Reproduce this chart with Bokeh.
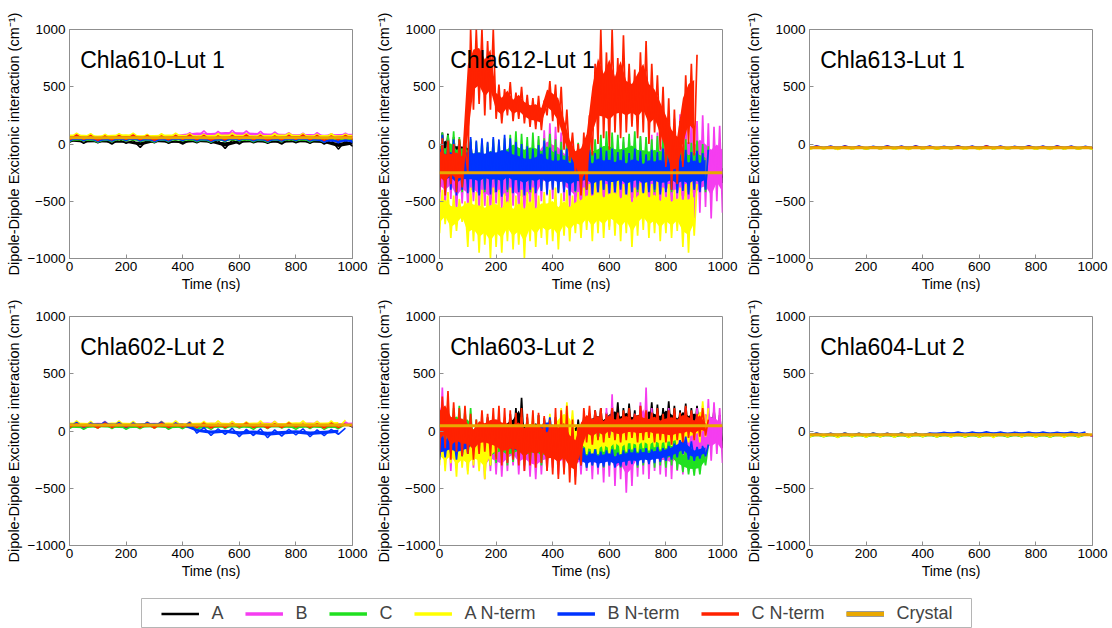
from bokeh.plotting import figure
from bokeh.layouts import column, row
from bokeh.models import Span, Label, Legend, LegendItem, Range1d, FixedTicker, Spacer
from bokeh.embed import file_html
from bokeh.resources import INLINE

# ---------------- data (lo/hi envelopes) ----------------
SERIES = ["A", "B", "C", "A N-term", "B N-term", "C N-term"]
COLORS = ["#000000", "#F53DF0", "#20E020", "#FFFF00", "#0033FF", "#FF2200"]
CRYSTAL_LABEL = "Crystal"
CRYSTAL_COLOR = "#E9A800"
X_TICKS = [0, 200, 400, 600, 800, 1000]
Y_TICKS = [-1000, -500, 0, 500, 1000]
TITLES = ["Chla610-Lut 1", "Chla612-Lut 1", "Chla613-Lut 1",
          "Chla602-Lut 2", "Chla603-Lut 2", "Chla604-Lut 2"]
STEPS = [50, 20, 50, 50, 20, 50]   # ns between samples

# Chla610-Lut 1
P610_A_LO = [15, 5, 10, 0, 5, -30, 10, 5, 0, 10, 5, -40, 0, 10, 5, 0, 10, 5, 0, -45, -20]
P610_A_HI = [45, 40, 35, 40, 30, 35, 40, 30, 35, 40, 30, 35, 40, 35, 30, 40, 35, 40, 35, 30, 40]
P610_B_LO = [30, 25, 35, 20, 30, 25, 30, 35, 50, 60, 55, 60, 65, 60, 55, 60, 55, 50, 55, 60, 55]
P610_B_HI = [80, 70, 75, 65, 70, 75, 70, 80, 100, 115, 110, 120, 115, 110, 105, 100, 95, 100, 90, 95, 100]
P610_C_LO = [20, 25, 15, 20, 25, 20, 15, 20, 25, 20, 15, 20, 25, 20, 15, 20, 25, 20, 15, 20, 25]
P610_C_HI = [55, 50, 45, 50, 55, 45, 50, 55, 50, 45, 50, 55, 50, 45, 50, 55, 50, 45, 50, 55, 50]
P610_AN_LO = [50, 55, 45, 50, 55, 50, 45, 50, 55, 50, 45, 50, 55, 50, 45, 50, 55, 50, 45, 50, 55]
P610_AN_HI = [95, 90, 85, 90, 95, 85, 90, 95, 90, 85, 90, 95, 90, 85, 90, 95, 90, 85, 90, 85, 90]
P610_BN_LO = [25, 30, 20, 25, 30, 25, 20, 25, 30, 25, 20, 25, 30, 25, 20, 25, 30, 25, 15, 10, 15]
P610_BN_HI = [60, 55, 50, 55, 60, 55, 50, 55, 60, 55, 50, 55, 60, 55, 50, 55, 60, 55, 45, 40, 45]
P610_CN_LO = [35, 40, 30, 35, 40, 35, 30, 35, 40, 35, 30, 35, 40, 35, 30, 35, 40, 35, 30, 35, 40]
P610_CN_HI = [80, 75, 70, 75, 80, 75, 70, 75, 80, 75, 70, 75, 80, 75, 70, 75, 80, 75, 70, 75, 80]
P610_CRYSTAL = 55

# Chla612-Lut 1
P612_A_LO = [-420, -150, -250, -200, -180, -200, -280, -300, -260, -320, -290, -300, -310, -280, -300, -320, -290,
             -300, -310, -300, -320, -300, -290, -350, -330, -360, -340, -350, -330, -360, -340, -350, -330, -360,
             -340, -350, -330, -360, -340, -350, -330, -360, -340, -350, -330, -360, -340, -350, -330, -360, -340]
P612_A_HI = [100, 90, 60, 40, 30, 20, -40, -60, -30, -70, -50, -80, -60, -90, -70, -100, -80,
             -110, -90, -120, -100, -110, -120, -150, -160, -140, -170, -150, -160, -140, -170, -150, -160, -140,
             -170, -150, -160, -140, -170, -150, -160, -140, -170, -150, -160, -140, -170, -150, -160, -140, -170]
P612_B_LO = [-500, -550, -480, -600, -520, -560, -500, -580, -540, -600, -520, -560, -600, -540, -580, -620, -560,
             -600, -500, -450, -480, -420, -500, -550, -600, -650, -600, -700, -620, -680, -720, -650, -600, -700,
             -620, -680, -600, -650, -700, -620, -580, -650, -600, -700, -620, -650, -600, -550, -650, -500, -600]
P612_B_HI = [60, 40, 20, -20, 0, -40, -60, -30, -80, -50, -70, -40, -60, -30, -50, -20, 0,
             40, 120, 180, 150, 100, 60, 30, 0, -20, 0, 20, 40, 10, 30, 0, 20, 40,
             30, 60, 40, 80, 100, 150, 250, 220, 260, 200, 240, 200, 250, 180, 150, 160, 130]
P612_C_LO = [-350, -400, -300, -380, -420, -350, -400, -380, -420, -360, -400, -380, -420, -350, -400, -380,
             -420, -360, -400, -350, -380, -420, -400, -380, -420, -350, -400, -380, -420, -400, -380, -420,
             -360, -400, -380, -420, -400, -380, -420, -400, -380, -420, -400, -380, -420, -400, -380, -420]
P612_C_HI = [100, 80, 110, 60, 90, 40, 20, 30, 10, 40, 20, 50, 80, 110, 90, 60,
             100, 70, 50, 90, 40, 20, 0, -20, 10, 0, 20, 40, 80, 110, 100, 80,
             60, 90, 110, 70, 60, 40, 70, 50, 30, 60, 20, 40, 10, 30, 0, -20]
P612_AN_LO = [-780, -700, -820, -760, -680, -900, -850, -950, -880, -1000, -900, -950, -850, -920, -880, -1000,
              -850, -900, -820, -880, -850, -920, -800, -850, -780, -820, -750, -850, -780, -820, -750, -800,
              -850, -780, -900, -800, -750, -820, -780, -850, -780, -820, -760, -900, -950, -800]
P612_AN_HI = [-400, -420, -450, -480, -500, -380, -420, -400, -450, -380, -400, -430, -380, -450, -400, -420,
              -380, -450, -420, -400, -380, -430, -400, -450, -420, -380, -350, -320, -300, -350, -330, -300,
              -350, -320, -380, -340, -300, -350, -330, -380, -350, -400, -380, -350, -330, -350]
P612_BN_LO = [-380, -420, -400, -450, -400, -430, -420, -450, -400, -440, -420, -460, -400, -430, -420, -450,
              -400, -430, -410, -440, -400, -430, -420, -450, -410, -420, -400, -440, -420, -400, -430, -420,
              -400, -440, -420, -400, -430, -420, -400, -440, -420, -400, -430, -410, -440, -400, -420, -400]
P612_BN_HI = [80, 20, 40, 0, -20, 60, 30, 50, 20, 60, 40, 80, 50, 20, 0, -20,
              -40, -10, 30, -30, -60, -50, -40, -70, -60, -40, -50, -80, -30, -60, -40, -70,
              -50, -80, -40, -60, -90, -50, -70, -40, -80, -60, -90, -50, -70, -60, -80, -50]
P612_CN_LO = [-400, -450, -350, -420, -380, -250, 300, 350, 250, 300, 220, 180, 250, 200, 220, 180,
              150, 130, 120, 250, 200, 100, -50, -150, -250, -450, -400, -100, 0, 50, -50, 100,
              50, 100, 150, 50, 100, 0, 100, -50, -200, -400, -350, -200, 0, -100]
P612_CN_HI = [50, 30, 0, 40, -20, 1000, 1000, 1000, 900, 1000, 520, 480, 540, 450, 500, 430,
              400, 420, 380, 550, 520, 500, 300, 100, 0, 100, 250, 700, 1000, 800, 1000, 750,
              950, 700, 650, 800, 900, 700, 600, 500, 400, 300, 200, 600, 700, 780]
P612_CRYSTAL = -250

# Chla613-Lut 1
P613_A_LO = [-40, -38, -42, -40, -37, -41, -39, -42, -38, -40, -41, -37, -40, -42, -39, -38, -41, -40, -37, -42, -40]
P613_A_HI = [-25, -27, -23, -26, -24, -28, -25, -22, -26, -24, -27, -25, -23, -26, -24, -20, -27, -25, -23, -26, -24]
P613_B_LO = [-42, -40, -44, -41, -39, -43, -40, -42, -44, -41, -40, -43, -42, -39, -41, -44, -40, -42, -41, -43, -40]
P613_B_HI = [-24, -26, -22, -25, -27, -23, -26, -24, -22, -25, -26, -23, -24, -27, -25, -22, -26, -24, -25, -23, -26]
P613_C_LO = [-44, -42, -46, -43, -45, -42, -44, -46, -43, -45, -42, -44, -46, -43, -45, -42, -44, -46, -43, -45, -44]
P613_C_HI = [-28, -30, -27, -29, -31, -28, -30, -27, -29, -31, -28, -30, -27, -29, -31, -28, -30, -27, -29, -31, -29]
P613_AN_LO = [-46, -44, -48, -45, -47, -44, -46, -48, -45, -47, -44, -46, -48, -45, -47, -44, -46, -48, -45, -47, -46]
P613_AN_HI = [-28, -30, -26, -29, -27, -30, -28, -26, -29, -27, -30, -28, -26, -29, -27, -30, -28, -26, -29, -27, -28]
P613_BN_LO = [-35, -33, -37, -34, -36, -33, -35, -37, -34, -36, -33, -35, -37, -34, -36, -33, -35, -37, -34, -36, -35]
P613_BN_HI = [-16, -18, -15, -17, -19, -16, -18, -15, -17, -19, -16, -18, -15, -17, -19, -16, -18, -15, -17, -19, -17]
P613_CN_LO = [-38, -36, -40, -37, -39, -36, -38, -40, -37, -39, -36, -38, -40, -37, -39, -36, -38, -40, -37, -39, -38]
P613_CN_HI = [-20, -22, -19, -21, -23, -20, -22, -19, -21, -23, -20, -22, -18, -21, -23, -20, -22, -19, -21, -23, -21]
P613_CRYSTAL = -32

# Chla602-Lut 2
P602_A_LO = [35, 30, 40, 35, 30, 35, 40, 30, 35, 40, 30, 35, 40, 35, 30, 40, 35, 30, 35, 40, 35]
P602_A_HI = [65, 60, 70, 65, 60, 70, 65, 60, 70, 65, 60, 65, 70, 60, 65, 70, 60, 65, 70, 65, 60]
P602_B_LO = [35, 40, 30, 35, 40, 30, 35, 40, 30, 20, 35, 40, 30, 35, 40, 30, 35, 40, 30, 35, 40]
P602_B_HI = [80, 75, 85, 80, 75, 80, 85, 75, 80, 75, 85, 80, 75, 80, 85, 75, 80, 85, 75, 80, 85]
P602_C_LO = [20, 15, 25, 20, 15, 20, 25, 15, 20, 10, 15, 20, 25, 15, 20, 25, 15, 20, 15, 20]
P602_C_HI = [55, 50, 60, 55, 50, 55, 60, 50, 55, 50, 60, 55, 50, 55, 60, 50, 55, 60, 50, 55]
P602_AN_LO = [30, 35, 25, 30, 35, 30, 25, 30, 35, 30, 25, 30, 35, 30, 25, 30, 35, 30, 25, 30]
P602_AN_HI = [90, 85, 80, 90, 85, 80, 85, 90, 80, 85, 90, 85, 80, 90, 85, 80, 90, 85, 90, 95]
P602_BN_LO = [35, 30, 40, 35, 30, 35, 40, 30, 35, -20, -40, -30, -50, -40, -60, -45, -35, -50, -40, -30]
P602_BN_HI = [75, 70, 80, 75, 70, 75, 80, 70, 75, 30, 20, 25, 15, 20, 10, 15, 20, 10, 15, 25]
P602_CN_LO = [30, 35, 25, 30, 35, 30, 25, 30, 35, 30, 25, 30, 35, 30, 25, 30, 35, 30, 25, 30]
P602_CN_HI = [65, 60, 70, 65, 60, 65, 70, 60, 65, 70, 60, 65, 70, 60, 65, 70, 60, 65, 70, 65]
P602_CRYSTAL = 52

# Chla603-Lut 2
P603_A_LO = [-200, -150, -250, -180, -220, -150, -230, -200, -180, -220, -150, -200, -170, -200, -150, -180, -200,
             -150, -180, -200, -150, -200, -250, -200, -180, -150, -120, -100, -80, -100, -80, -60, -100, -80,
             -60, -100, -80, -60, -100, -80, -60, -80, -100, -60, -80, -50, -60, -100, -50, -80, -150]
P603_A_HI = [100, 150, 80, 120, 60, 100, 50, 80, 120, 90, 130, 100, 150, 200, 290, 120, 100,
             140, 110, 90, 120, 100, 80, 60, 100, 120, 150, 180, 200, 160, 220, 250, 200, 240,
             180, 220, 200, 250, 230, 200, 260, 220, 180, 240, 200, 220, 180, 150, 180, 140, 100]
P603_B_LO = [-250, -300, -350, -300, -280, -350, -320, -300, -420, -350, -380, -400, -350, -300, -380, -350, -400,
             -420, -380, -350, -320, -380, -350, -300, -400, -380, -350, -420, -380, -450, -400, -480, -420, -540,
             -480, -400, -380, -420, -350, -380, -400, -420, -350, -380, -320, -300, -280, -250, -260, -200, -280]
P603_B_HI = [380, 200, 150, 100, 80, 100, 60, 80, 50, 100, 80, 60, 100, 80, 60, 100, 80,
             60, 100, 80, 60, 40, 80, 60, 40, 100, 80, 120, 100, 200, 320, 150, 120, 100,
             150, 250, 380, 200, 150, 120, 200, 150, 120, 200, 150, 200, 220, 280, 250, 200, 150]
P603_C_LO = [-200, -250, -200, -150, -180, -200, -250, -280, -250, -300, -280, -250, -300, -270, -250, -300,
             -280, -260, -300, -280, -250, -300, -280, -250, -300, -280, -320, -300, -280, -320, -300, -280,
             -320, -300, -280, -320, -300, -280, -320, -300, -320, -300, -340, -360, -380, -390, -380, -300]
P603_C_HI = [150, 120, 200, 220, 180, 200, 100, 80, 60, 40, 80, 50, 70, 40, 60, 80,
             50, 70, 40, 60, 80, 50, 70, 40, 60, 50, 40, 60, 50, 70, 40, 60,
             50, 30, 60, 40, 50, 30, 60, 40, 20, 0, -100, -150, -180, -160, -150, -120]
P603_AN_LO = [-300, -350, -280, -400, -320, -380, -300, -350, -420, -300, -250, -200, -250, -200, -180, -220,
              -200, -250, -200, -220, -180, -200, -150, -100, -150, -180, -200, -220, -200, -180, -200, -160,
              -200, -180, -160, -180, -150, -170, -140, -160, -150, -130, -120, -140, -100, -80, -100, -50]
P603_AN_HI = [50, 0, -20, 20, -30, 0, -50, 20, 0, 40, 80, 120, 100, 80, 120, 100,
              150, 120, 100, 150, 120, 200, 250, 180, 50, 60, 0, 20, -20, 40, 0, 80,
              20, 100, 60, 40, 80, 30, 60, 40, 80, 20, 60, 40, 100, 120, 260, 200]
P603_BN_LO = [-250, -230, -200, -250, -220, -200, -150, -100, -80, -120, -150, -200, -180, -200, -220, -200,
              -180, -150, -100, -50, -80, -150, -200, -250, -280, -300, -320, -300, -320, -310, -300, -320,
              -310, -300, -290, -300, -280, -290, -280, -270, -260, -250, -230, -200, -250, -260, -240, -220]
P603_BN_HI = [0, -20, -30, 10, -10, 0, 20, 40, 30, 10, 0, -20, -40, -30, -50, -30,
              0, 50, 100, 120, 100, 60, 0, -50, -100, -150, -180, -160, -180, -170, -160, -190,
              -170, -160, -150, -160, -150, -160, -140, -150, -130, -110, -80, -50, -90, -140, -130, -120]
P603_CN_LO = [-200, -150, -250, -180, -220, -200, -250, -200, -180, -220, -250, -300, -280, -250, -300, -350,
              -300, -320, -280, -350, -380, -420, -380, -450, -470, -300, -100, -120, -80, -100, -60, -80,
              -100, -80, -60, -100, -80, -60, -100, -80, -100, -120, -80, -100, -60, -80, -50, -40]
P603_CN_HI = [300, 350, 250, 200, 220, 150, 100, 180, 150, 200, 220, 200, 180, 160, 200, 150,
              180, 160, 130, 100, 200, 180, 220, 100, 50, 200, 220, 180, 200, 150, 200, 160,
              180, 200, 150, 220, 180, 160, 200, 150, 180, 200, 160, 220, 180, 150, 200, 100]
P603_CRYSTAL = 45

# Chla604-Lut 2
P604_A_LO = [-45, -42, -48, -44, -46, -43, -47, -45, -42, -46, -44, -48, -43, -45, -47, -42, -46, -44, -45, -43, -46]
P604_A_HI = [-22, -24, -20, -23, -21, -25, -22, -20, -24, -22, -21, -23, -25, -22, -20, -24, -22, -21, -23, -22, -24]
P604_B_LO = [-45, -47, -43, -46, -44, -48, -45, -43, -47, -44, -46, -45, -43, -47, -44, -46, -45, -43, -47, -44, -46]
P604_B_HI = [-20, -22, -18, -21, -23, -20, -22, -19, -21, -23, -20, -22, -19, -21, -23, -20, -22, -19, -21, -23, -21]
P604_C_LO = [-52, -50, -54, -51, -53, -50, -52, -54, -51, -53, -50, -52, -54, -51, -53, -50, -52, -54, -51, -53]
P604_C_HI = [-30, -32, -29, -31, -33, -30, -32, -29, -31, -33, -30, -32, -29, -31, -33, -30, -32, -29, -31, -33]
P604_AN_LO = [-55, -52, -57, -54, -56, -53, -55, -57, -52, -54, -56, -53, -55, -57, -52, -54, -56, -53, -55, -54]
P604_AN_HI = [-15, -18, -13, -16, -14, -17, -12, -15, -18, -14, -16, -13, -17, -15, -12, -16, -14, -17, -15, -16]
P604_BN_LO = [-35, -33, -37, -34, -36, -33, -35, -37, -34, -24, -22, -23, -21, -22, -24, -21, -23, -22, -21, -23]
P604_BN_HI = [-18, -20, -17, -19, -18, -20, -17, -19, -18, -10, -8, -9, -7, -8, -10, -9, -8, -10, -9, -8]
P604_CN_LO = [-38, -36, -40, -37, -39, -36, -38, -40, -37, -39, -36, -38, -40, -37, -39, -36, -38, -40, -37, -39]
P604_CN_HI = [-26, -28, -25, -27, -29, -26, -28, -25, -27, -29, -26, -28, -25, -27, -29, -26, -28, -25, -27, -28]
P604_CRYSTAL = -32

PANEL_DATA = [
    ([(P610_A_LO, P610_A_HI), (P610_B_LO, P610_B_HI), (P610_C_LO, P610_C_HI),
      (P610_AN_LO, P610_AN_HI), (P610_BN_LO, P610_BN_HI), (P610_CN_LO, P610_CN_HI)], P610_CRYSTAL),
    ([(P612_A_LO, P612_A_HI), (P612_B_LO, P612_B_HI), (P612_C_LO, P612_C_HI),
      (P612_AN_LO, P612_AN_HI), (P612_BN_LO, P612_BN_HI), (P612_CN_LO, P612_CN_HI)], P612_CRYSTAL),
    ([(P613_A_LO, P613_A_HI), (P613_B_LO, P613_B_HI), (P613_C_LO, P613_C_HI),
      (P613_AN_LO, P613_AN_HI), (P613_BN_LO, P613_BN_HI), (P613_CN_LO, P613_CN_HI)], P613_CRYSTAL),
    ([(P602_A_LO, P602_A_HI), (P602_B_LO, P602_B_HI), (P602_C_LO, P602_C_HI),
      (P602_AN_LO, P602_AN_HI), (P602_BN_LO, P602_BN_HI), (P602_CN_LO, P602_CN_HI)], P602_CRYSTAL),
    ([(P603_A_LO, P603_A_HI), (P603_B_LO, P603_B_HI), (P603_C_LO, P603_C_HI),
      (P603_AN_LO, P603_AN_HI), (P603_BN_LO, P603_BN_HI), (P603_CN_LO, P603_CN_HI)], P603_CRYSTAL),
    ([(P604_A_LO, P604_A_HI), (P604_B_LO, P604_B_HI), (P604_C_LO, P604_C_HI),
      (P604_AN_LO, P604_AN_HI), (P604_BN_LO, P604_BN_HI), (P604_CN_LO, P604_CN_HI)], P604_CRYSTAL),
]

FONT = "Liberation Sans"
FRAME_GRAY = "#8f8f8f"
Y_LABEL = "Dipole-Dipole Excitonic interaction (cm\u207b\u00b9)"
X_LABEL = "Time (ns)"
CORE_INSET = 0.25   # dense core of each noisy band, drawn solid; spikes reach lo/hi


def times(n, step):
    return [i * step for i in range(n)]


def zigzag(lo, hi, step):
    xs, ys = [], []
    for i in range(len(lo)):
        t = i * step
        xs.extend([t, t + step / 2])
        ys.extend([lo[i], hi[i]])
    return xs, ys


def make_panel(idx):
    top_row = idx < 3
    col = idx % 3
    width = 372 if col == 2 else 370
    right = 20 if col == 2 else 18
    top = 29 if top_row else 20
    height = 296 if top_row else 287
    p = figure(width=width, height=height, x_range=Range1d(0, 1000), y_range=Range1d(-1000, 1000),
               output_backend="svg", toolbar_location=None,
               min_border_left=69, min_border_right=right, min_border_top=top, min_border_bottom=38)
    p.grid.visible = False
    p.outline_line_color = FRAME_GRAY
    p.outline_line_width = 1
    for ax in (p.xaxis[0], p.yaxis[0]):
        ax.axis_line_color = FRAME_GRAY
        ax.major_tick_line_color = FRAME_GRAY
        ax.major_tick_in = 4
        ax.major_tick_out = 0
        ax.minor_tick_line_color = None
        ax.major_label_text_font = FONT
        ax.major_label_text_font_size = "13.5px"
        ax.major_label_text_color = "#000000"
        ax.axis_label_text_font = FONT
        ax.axis_label_text_font_style = "normal"
        ax.axis_label_text_color = "#000000"
    p.xaxis.ticker = FixedTicker(ticks=X_TICKS)
    p.yaxis.ticker = FixedTicker(ticks=Y_TICKS)
    p.xaxis.axis_label = X_LABEL
    p.xaxis.axis_label_text_font_size = "14px"
    p.xaxis.major_label_standoff = 3
    p.xaxis.axis_label_standoff = 2
    p.yaxis.axis_label = Y_LABEL
    p.yaxis.axis_label_text_font_size = "14.5px"
    p.yaxis.major_label_standoff = 4
    p.yaxis.axis_label_standoff = 3

    series, crystal = PANEL_DATA[idx]
    step = STEPS[idx]
    lw = 1.7 if step == 20 else 1.5
    for (lo, hi), color in zip(series, COLORS):
        core_lo = [a + CORE_INSET * (b - a) for a, b in zip(lo, hi)]
        core_hi = [b - CORE_INSET * (b - a) for a, b in zip(lo, hi)]
        p.varea(x=times(len(lo), step), y1=core_lo, y2=core_hi, fill_color=color, fill_alpha=1.0)
        xs, ys = zigzag(lo, hi, step)
        p.line(xs, ys, line_color=color, line_width=lw)
    p.add_layout(Span(location=crystal, dimension="width", line_color=CRYSTAL_COLOR, line_width=3))
    p.add_layout(Label(x=38, y=735, text=TITLES[idx], text_font=FONT, text_font_size="23px",
                       text_color="#000000", text_baseline="alphabetic"))
    return p


panels = [make_panel(i) for i in range(6)]

# ---------------- legend ----------------
NAN = float("nan")
leg = figure(width=831, height=30, x_range=Range1d(0, 1), y_range=Range1d(0, 1),
             output_backend="svg", toolbar_location=None, min_border=0)
leg.axis.visible = False
leg.grid.visible = False
leg.outline_line_color = "#b5b5b5"
items = []
for name, color in zip(SERIES, COLORS):
    r = leg.line(x=[NAN], y=[NAN], line_color=color, line_width=2.5 if name == "A" else 3.5)
    items.append(LegendItem(label=name, renderers=[r]))
r_edge = leg.line(x=[NAN], y=[NAN], line_color="#9a9a9a", line_width=6)
r_fill = leg.line(x=[NAN], y=[NAN], line_color=CRYSTAL_COLOR, line_width=4)
items.append(LegendItem(label=CRYSTAL_LABEL, renderers=[r_edge, r_fill]))
legend = Legend(items=items, orientation="horizontal", location="center",
                glyph_width=38, glyph_height=20, label_standoff=13, spacing=21,
                padding=0, margin=0, border_line_color=None, background_fill_alpha=0,
                label_text_font=FONT, label_text_font_size="18px", label_width=0, label_height=20)
leg.add_layout(legend, "center")

layout = column(
    row(panels[0], panels[1], panels[2]),
    row(panels[3], panels[4], panels[5]),
    Spacer(height=15),
    row(Spacer(width=141), leg),
)

open("out.html", "w").write(file_html(layout, INLINE))
